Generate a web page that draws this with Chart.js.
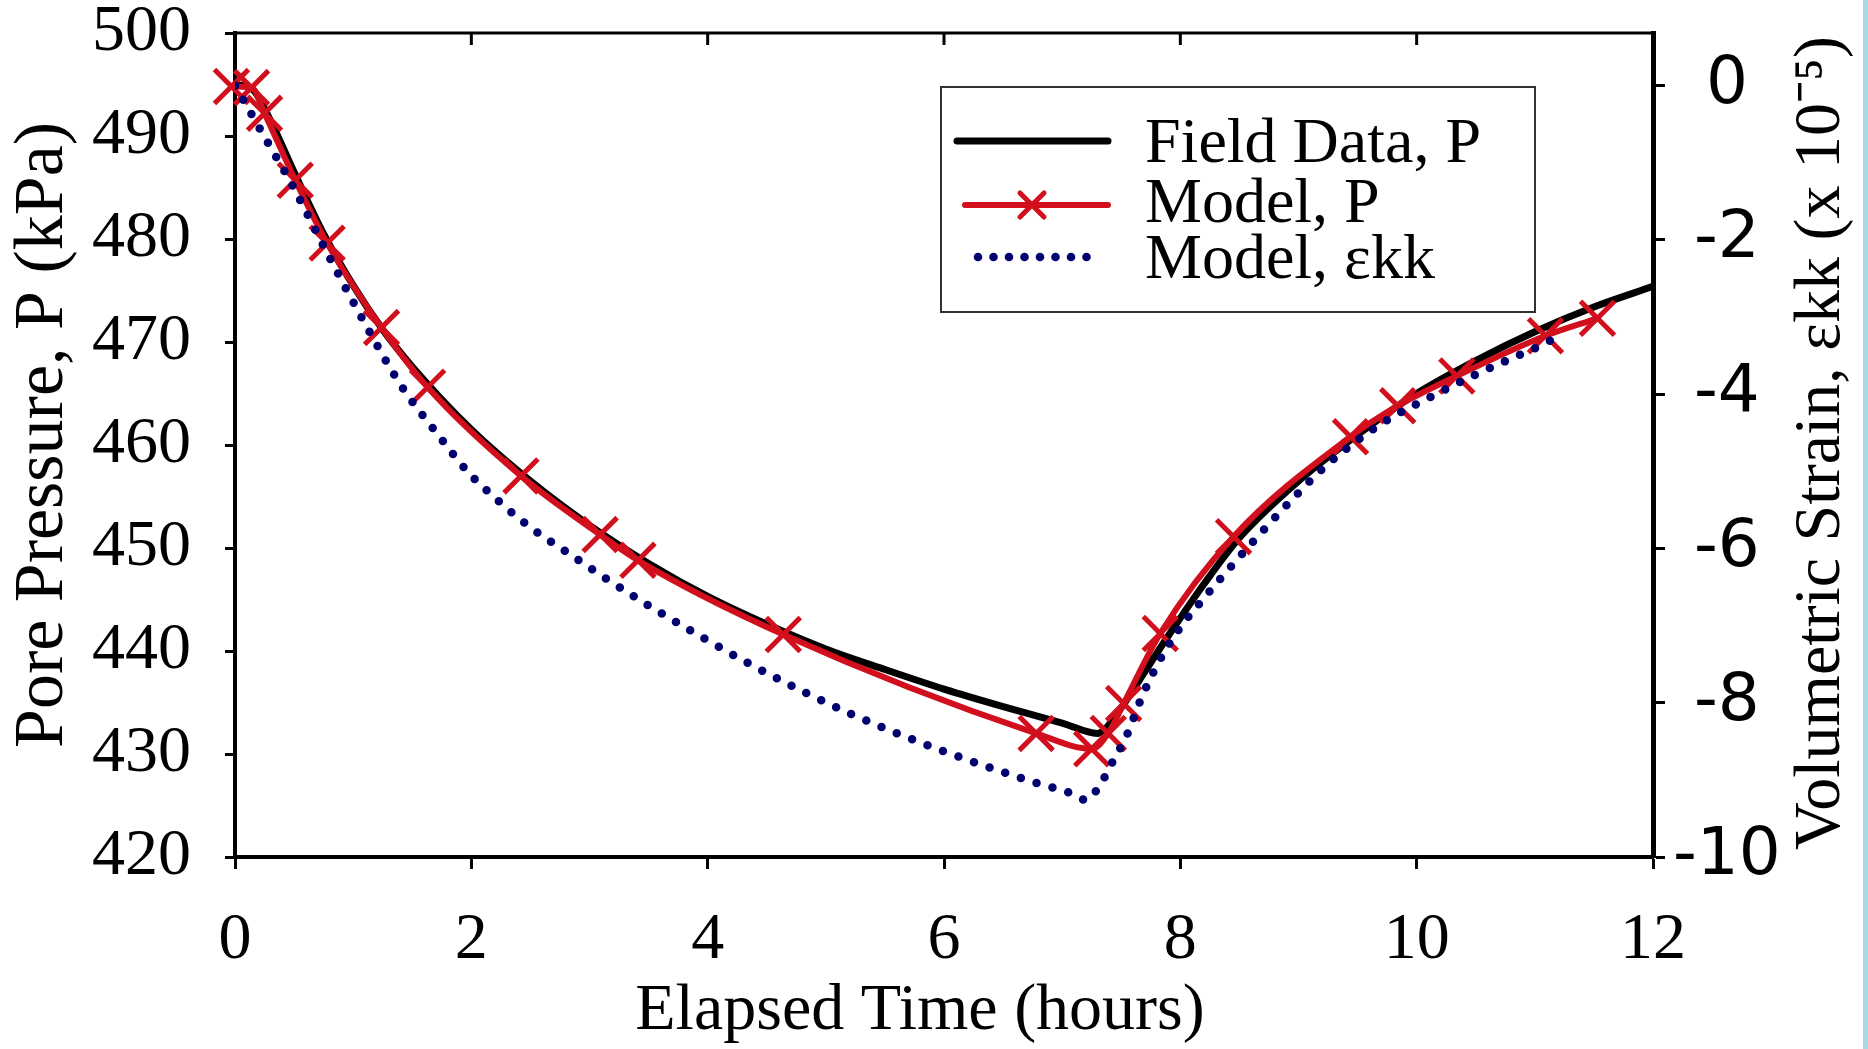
<!DOCTYPE html>
<html>
<head>
<meta charset="utf-8">
<script src="https://cdn.jsdelivr.net/npm/chart.js@4.4.1/dist/chart.umd.min.js"></script>
<style>
  html, body { margin: 0; padding: 0; background: #fff; }
  #wrap { position: relative; width: 1868px; height: 1049px; }
  #edge { position: absolute; right: 0; top: 0; width: 5px; height: 1049px; background: #a9d6e8; }
</style>
</head>
<body>
<div id="wrap">
  <canvas id="chart" width="1868" height="1049"></canvas>
  <div id="edge"></div>
</div>
<script>
// values
var xTicks = [0, 2, 4, 6, 8, 10, 12]
var pTicks = [420, 430, 440, 450, 460, 470, 480, 490, 500]
var strainTicks = [-10, -8, -6, -4, -2, 0]

// field data, pore pressure (kPa)
var fieldTime = [0, 0.15, 0.3, 0.5, 0.75, 1.0, 1.25, 1.5, 2.0, 2.5, 3.0, 3.5, 4.0, 4.5, 5.0, 5.5, 6.0, 6.5, 7.0, 7.3, 7.5, 7.7, 7.9, 8.2, 8.5, 9.0, 9.5, 10.0, 10.5, 11.0, 11.5, 12.0]
var fieldP = [495.0, 494.5, 491.5, 486.5, 480.5, 475.5, 471.2, 467.6, 461.5, 456.5, 452.2, 448.5, 445.3, 442.6, 440.2, 438.2, 436.3, 434.6, 433.0, 432.0, 434.5, 438.0, 441.5, 446.5, 451.0, 456.5, 461.0, 465.0, 468.2, 471.0, 473.4, 475.4]

// model, pore pressure (kPa)
var modelTime = [-0.03, 0.14, 0.25, 0.51, 0.78, 1.24, 1.63, 2.42, 3.09, 3.41, 4.64, 6.78, 7.25, 7.39, 7.52, 7.83, 8.45, 9.44, 9.84, 10.34, 11.09, 11.53]
var modelP = [494.8, 494.7, 492.2, 485.7, 479.6, 471.4, 465.6, 457.0, 451.3, 448.8, 441.6, 432.0, 430.5, 432.0, 434.9, 441.7, 451.1, 460.8, 463.8, 466.7, 470.6, 472.3]

// model, volumetric strain (x 10^-5)
var strainTime = [0, 0.24, 0.48, 0.78, 1.08, 1.41, 1.73, 1.96, 2.24, 2.52, 2.81, 3.09, 3.52, 3.94, 4.37, 4.80, 5.22, 5.64, 6.07, 6.50, 6.78, 7.07, 7.20, 7.32, 7.40, 7.55, 7.66, 7.79, 7.96, 8.18, 8.42, 8.67, 8.93, 9.21, 9.49, 9.77, 10.05, 10.48, 10.77, 11.05, 11.19]
var strainVal = [0, -0.64, -1.28, -2.17, -3.03, -3.90, -4.55, -4.99, -5.40, -5.75, -6.05, -6.34, -6.76, -7.14, -7.51, -7.85, -8.15, -8.42, -8.67, -8.90, -9.04, -9.17, -9.26, -9.07, -8.84, -8.41, -7.98, -7.55, -7.11, -6.68, -6.25, -5.82, -5.39, -4.96, -4.61, -4.32, -4.09, -3.76, -3.56, -3.37, -3.26]

var red = "#d20f1c"
var navy = "#00006e"
var serif = "'Liberation Serif', 'Times New Roman', serif"
var sans = "'DejaVu Sans', Arial, sans-serif"

function pairs(xs, ys){
  return xs.map(function(x, i){ return {x: x, y: ys[i]} })
}

// keep the plot box where the figure has it
function noPad(s){
  s.paddingTop = 0
  s.paddingBottom = 0
  s.paddingLeft = 0
  s.paddingRight = 0
}

function vText(c, text, x, y){
  c.save()
  c.translate(x, y)
  c.rotate(-Math.PI / 2)
  c.fillText(text, 0, 0)
  c.restore()
}

// top frame line, axis titles, boxed legend
var frame = {
  id: "frame",
  afterDraw: function(chart){
    var c = chart.ctx
    var a = chart.chartArea
    var xs = chart.scales.x
    c.save()
    c.strokeStyle = "#000"
    c.lineWidth = 3
    c.beginPath()
    c.moveTo(a.left, a.top)
    c.lineTo(a.right, a.top)
    xTicks.forEach(function(v){
      if(v > 0 && v < 12){
        var px = xs.getPixelForValue(v)
        c.moveTo(px, a.top)
        c.lineTo(px, a.top + 12)
      }
    })
    c.stroke()

    c.fillStyle = "#000"
    c.textAlign = "center"
    c.textBaseline = "middle"
    c.font = "66px " + serif
    c.fillText("Elapsed Time (hours)", (a.left + a.right) / 2 - 24, 1012)

    c.font = "70px " + serif
    vText(c, "Pore Pressure, P (kPa)", 44, (a.top + a.bottom) / 2 - 10)

    c.font = "66px " + serif
    vText(c, "Volumetric Strain, \u03b5kk (x 10\u207b\u2075)", chart.width - 46, (a.top + a.bottom) / 2 - 2)

    // legend box
    var bx = 941, by = 87, bw = 594, bh = 225
    c.fillStyle = "#fff"
    c.fillRect(bx, by, bw, bh)
    c.strokeStyle = "#333"
    c.lineWidth = 2
    c.strokeRect(bx, by, bw, bh)

    var ds = chart.data.datasets
    var rows = [141, 205, 257]
    var bases = [162, 222, 278]
    c.lineCap = "round"
    c.strokeStyle = "#000"
    c.lineWidth = 7
    c.beginPath(); c.moveTo(957, rows[0]); c.lineTo(1108, rows[0]); c.stroke()
    c.strokeStyle = red
    c.lineWidth = 6
    c.beginPath(); c.moveTo(965, rows[1]); c.lineTo(1108, rows[1]); c.stroke()
    c.lineWidth = 5
    c.beginPath()
    c.moveTo(1020, rows[1] - 12); c.lineTo(1044, rows[1] + 12)
    c.moveTo(1044, rows[1] - 12); c.lineTo(1020, rows[1] + 12)
    c.stroke()
    c.fillStyle = navy
    for(var i = 0; i < 8; i++){
      c.beginPath()
      c.arc(978 + i * 15.5, rows[2], 4.3, 0, Math.PI * 2)
      c.fill()
    }
    c.fillStyle = "#000"
    c.font = "64px " + serif
    c.textAlign = "left"
    c.textBaseline = "alphabetic"
    for(var j = 0; j < 3; j++){
      c.fillText(ds[j].label, 1145, bases[j])
    }
    c.restore()
  }
}

var ctx = document.getElementById("chart").getContext("2d")
var chart = new Chart(ctx, {
  type: "line",
  data: {
    datasets: [
      {
        label: "Field Data, P",
        data: pairs(fieldTime, fieldP),
        yAxisID: "y",
        borderColor: "#000",
        borderWidth: 7,
        pointRadius: 0,
        cubicInterpolationMode: "monotone",
        order: 3
      },
      {
        label: "Model, P",
        data: pairs(modelTime, modelP),
        yAxisID: "y",
        borderColor: red,
        borderWidth: 6,
        pointStyle: "crossRot",
        pointRadius: 24,
        pointBorderWidth: 5,
        pointBorderColor: red,
        pointBackgroundColor: red,
        cubicInterpolationMode: "monotone",
        clip: false,
        order: 2
      },
      {
        label: "Model, \u03b5kk",
        data: pairs(strainTime, strainVal),
        yAxisID: "y2",
        borderColor: navy,
        borderWidth: 8.5,
        borderDash: [0, 16.5],
        borderCapStyle: "round",
        pointRadius: 0,
        cubicInterpolationMode: "monotone",
        order: 1
      }
    ]
  },
  options: {
    responsive: false,
    animation: false,
    devicePixelRatio: 1,
    layout: { padding: { top: 33, left: 0, right: 0, bottom: 0 } },
    plugins: { legend: { display: false }, tooltip: { enabled: false } },
    scales: {
      x: {
        type: "linear",
        position: "bottom",
        min: 0,
        max: 12,
        afterBuildTicks: function(s){ s.ticks = xTicks.map(function(v){ return {value: v} }) },
        afterFit: function(s){ s.height = 192; noPad(s) },
        ticks: { color: "#000", font: { family: serif, size: 66 }, padding: 32, maxRotation: 0, autoSkip: false },
        grid: { drawOnChartArea: false, tickLength: 12, tickWidth: 3, tickColor: "#000", color: "#000" },
        border: { color: "#000", width: 4 }
      },
      y: {
        type: "linear",
        position: "left",
        min: 420,
        max: 500,
        afterBuildTicks: function(s){ s.ticks = pTicks.map(function(v){ return {value: v} }) },
        afterFit: function(s){ s.width = 235; noPad(s) },
        ticks: { color: "#000", font: { family: serif, size: 66 }, padding: 34 },
        grid: { drawOnChartArea: false, tickLength: 10, tickWidth: 3, tickColor: "#000", color: "#000" },
        border: { color: "#000", width: 4 }
      },
      y2: {
        type: "linear",
        position: "right",
        min: -10,
        max: 0.68,
        afterBuildTicks: function(s){ s.ticks = strainTicks.map(function(v){ return {value: v} }) },
        afterFit: function(s){ s.width = 215; noPad(s) },
        ticks: { color: "#000", font: { family: sans, size: 66 }, padding: 8, crossAlign: "center" },
        grid: { drawOnChartArea: false, tickLength: 12, tickWidth: 3, tickColor: "#000", color: "#000" },
        border: { color: "#000", width: 5 }
      }
    }
  },
  plugins: [frame]
})
</script>
</body>
</html>
